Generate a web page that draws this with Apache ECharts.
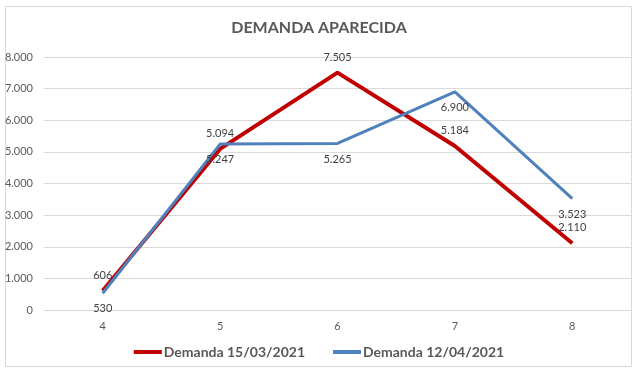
<!DOCTYPE html>
<html><head><meta charset="utf-8">
<script src="https://cdn.jsdelivr.net/npm/echarts@6/dist/echarts.min.js"></script>
<style>html,body{margin:0;padding:0;background:#fff}#c{width:638px;height:381px}</style>
</head><body><div id="c"></div>
<script>
const categories = ['4','5','6','7','8'];
const seriesNames = ['Demanda 15/03/2021','Demanda 12/04/2021'];
const demanda1503 = [606, 5094, 7505, 5184, 2110];
const demanda1204 = [530, 5247, 5265, 6900, 3523];
const yTicks = [0,1000,2000,3000,4000,5000,6000,7000,8000];

const fmt = v => String(v).replace(/\B(?=(\d{3})+(?!\d))/g, '.');
const FONT = 'Lato';
const chart = echarts.init(document.getElementById('c'));
chart.setOption({
  animation:false,
  textStyle:{fontFamily:FONT},
  graphic:[{type:'rect',shape:{x:5.5,y:6.5,width:626,height:360},style:{fill:'none',stroke:'#d9d9d9',lineWidth:1},z:-1}],
  title:{text:'DEMANDA APARECIDA',left:'center',top:15,textStyle:{fontFamily:FONT,fontSize:16,fontWeight:'bold',color:'#595959'}},
  grid:{left:44,right:7,top:57,bottom:71,containLabel:false},
  legend:{bottom:17,left:'center',itemGap:28,itemWidth:28,itemHeight:4,icon:'rect',
    textStyle:{fontFamily:FONT,fontSize:14,fontWeight:'bold',color:'#595959',padding:[0,0,0,-3]},
    data:[{name:seriesNames[0]},{name:seriesNames[1]}]},
  xAxis:{type:'category',data:categories,boundaryGap:true,
    axisLine:{show:false},axisTick:{show:false},
    axisLabel:{color:'#595959',fontSize:11,margin:11}},
  yAxis:{type:'value',min:yTicks[0],max:yTicks[yTicks.length-1],interval:1000,
    axisLine:{show:false},axisTick:{show:false},
    splitLine:{lineStyle:{color:'#d9d9d9',width:1}},
    axisLabel:{color:'#595959',fontSize:11,margin:11,formatter:v=>fmt(v)}},
  series:[
    {name:seriesNames[0],type:'line',data:demanda1503,showSymbol:true,symbol:'circle',symbolSize:0.01,
      lineStyle:{color:'#C00000',width:4},itemStyle:{color:'#C00000'},z:2,
      label:{show:true,position:'top',distance:10,color:'#404040',fontSize:11,formatter:p=>fmt(p.value)}},
    {name:seriesNames[1],type:'line',data:demanda1204,showSymbol:true,symbol:'circle',symbolSize:0.01,
      lineStyle:{color:'#4F81BD',width:3},itemStyle:{color:'#4F81BD'},z:3,
      label:{show:true,position:'bottom',distance:10,color:'#404040',fontSize:11,formatter:p=>fmt(p.value)}}
  ]
});
</script></body></html>
